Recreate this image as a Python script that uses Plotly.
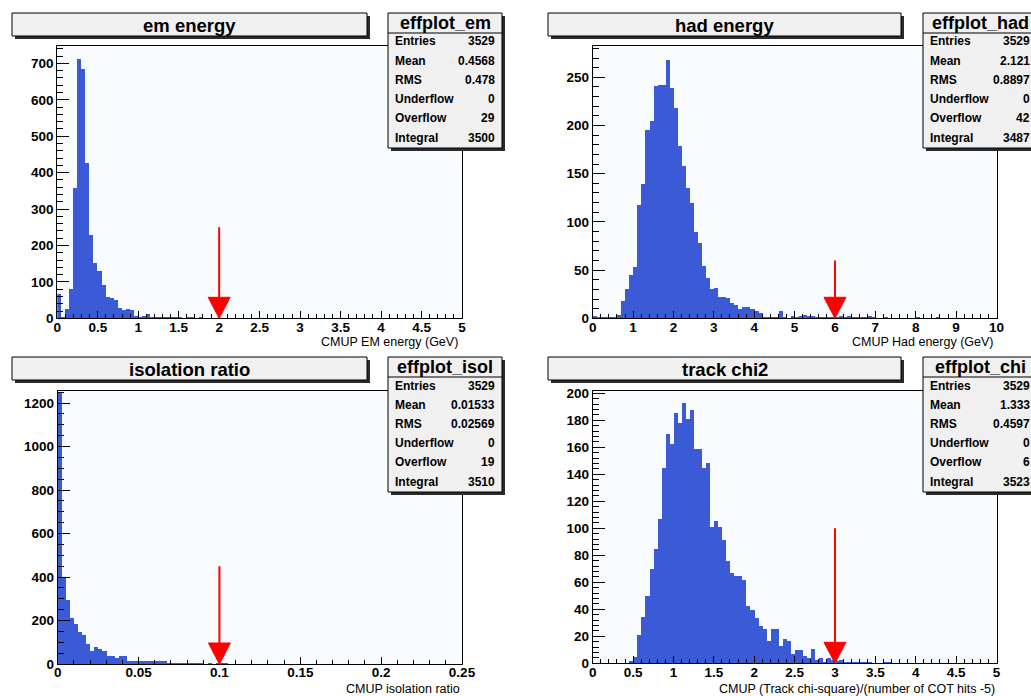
import numpy as np
import plotly.graph_objects as go

W, H = 1031, 696

# ---- histogram binning: (xmin, xmax, nbins) ----
em_binning = (0.0, 5.0, 100)
had_binning = (0.0, 10.0, 100)
isol_binning = (0.0, 0.25, 100)
chi_binning = (0.0, 5.0, 100)

# ---- bin contents ----
em_counts = [
    69, 5, 28, 82, 358, 714, 686, 428, 231, 152,
    130, 92, 61, 58, 53, 29, 23, 26, 23, 8,
    6, 9, 12, 6, 5, 6, 5, 3, 3, 5,
    4, 2, 3, 4, 2, 3, 1, 2, 2, 1,
    1, 2, 0, 1, 2, 0, 2, 1, 1, 0,
    2, 1, 0, 1, 2, 1, 0, 1, 0, 1,
    0, 1, 0, 0, 1, 0, 1, 0, 0, 0,
    1, 0, 0, 0, 1, 0, 0, 1, 0, 0,
    0, 0, 0, 0, 0, 0, 0, 0, 0, 0,
    0, 0, 0, 0, 0, 0, 0, 0, 0, 0,
]

had_counts = [
    3, 1, 1, 2, 2, 2, 4, 18, 31, 45,
    54, 118, 140, 196, 205, 242, 243, 243, 269, 239,
    219, 179, 158, 136, 120, 90, 79, 55, 42, 31,
    32, 23, 23, 22, 16, 14, 10, 12, 12, 10,
    8, 6, 2, 2, 2, 2, 8, 2, 0, 3,
    1, 3, 4, 3, 3, 1, 2, 1, 1, 2,
    2, 3, 1, 3, 2, 1, 2, 2, 3, 1,
    0, 0, 1, 0, 0, 0, 0, 0, 0, 0,
    1, 0, 0, 0, 0, 1, 0, 0, 0, 0,
    0, 0, 0, 0, 0, 0, 0, 0, 0, 0,
]

isol_counts = [
    1250, 401, 298, 216, 187, 151, 136, 96, 61, 80,
    70, 60, 41, 37, 31, 41, 37, 18, 18, 18,
    14, 18, 18, 14, 14, 14, 14, 9, 9, 9,
    6, 6, 5, 6, 4, 3, 0, 5, 0, 4,
    4, 3, 0, 0, 0, 0, 0, 0, 0, 0,
    0, 0, 0, 0, 0, 0, 0, 0, 0, 0,
    0, 0, 0, 0, 0, 0, 0, 0, 0, 0,
    0, 0, 0, 0, 0, 0, 0, 0, 0, 0,
    0, 0, 0, 0, 0, 0, 0, 0, 0, 0,
    0, 0, 0, 0, 0, 0, 0, 0, 0, 0,
]

chi_counts = [
    0, 0, 0, 0, 0, 0, 0, 0, 0, 2,
    5, 21, 35, 50, 70, 85, 107, 145, 170, 163,
    186, 178, 193, 181, 188, 159, 159, 145, 149, 101,
    106, 101, 92, 76, 67, 65, 65, 62, 43, 40,
    34, 28, 26, 17, 26, 26, 13, 18, 17, 7,
    10, 10, 6, 4, 11, 3, 4, 1, 4, 3,
    2, 3, 1, 1, 1, 1, 1, 1, 1, 0,
    0, 0, 1, 1, 0, 0, 0, 0, 0, 0,
    0, 0, 0, 0, 0, 0, 0, 0, 0, 0,
    0, 0, 0, 0, 0, 0, 0, 0, 0, 0,
]

# ---- texts ----
titles = ["em energy", "had energy", "isolation ratio", "track chi2"]
x_titles = [
    "CMUP EM energy (GeV)",
    "CMUP Had energy (GeV)",
    "CMUP isolation ratio",
    "CMUP (Track chi-square)/(number of COT hits -5)",
]
stat_names = ["effplot_em", "effplot_had", "effplot_isol", "effplot_chi"]
stat_labels = ["Entries", "Mean", "RMS", "Underflow", "Overflow", "Integral"]
stat_values = [
    ["3529", "0.4568", "0.478", "0", "29", "3500"],
    ["3529", "2.121", "0.8897", "0", "42", "3487"],
    ["3529", "0.01533", "0.02569", "0", "19", "3510"],
    ["3529", "1.333", "0.4597", "0", "6", "3523"],
]

# ---- cut positions and arrow tops ----
cut_values = [2.0, 6.0, 0.1, 3.0]
arrow_tops = [250, 60, 450, 100]

# ---- axis settings ----
y_max = [749, 283, 1258, 202]
x_major = [0.5, 1.0, 0.05, 0.5]
x_minor = [0.1, 0.2, 0.01, 0.1]
y_major = [100, 50, 200, 20]
y_minor = [20, 10, 50, 4]

binnings = [em_binning, had_binning, isol_binning, chi_binning]
counts = [em_counts, had_counts, isol_counts, chi_counts]

BAR_COLOR = "#3a5ad6"
FONT = "Liberation Sans"

# pixel frames of the four pads: (left, right, top, bottom)
frames = [
    (57.3, 462.0, 45.5, 318.3),
    (592.7, 996.5, 45.5, 318.3),
    (57.7, 462.0, 390.5, 664.0),
    (592.7, 996.5, 390.5, 663.3),
]
# title boxes (left, right, top, bottom)
title_boxes = [
    (12, 367, 13, 36),
    (548, 901, 13, 36),
    (12, 367, 357, 380),
    (548, 901, 357, 380),
]
# stats boxes (left, right, top, bottom)
stat_boxes = [
    (388, 502, 13, 148),
    (923, 1037, 13, 148),
    (388, 502, 357, 492),
    (923, 1037, 357, 492),
]
x_title_pos = [(460, 342), (996, 342), (462, 688.5), (997, 688.5)]


def px(x):
    return x / W


def py(y):
    return 1 - y / H


fig = go.Figure()
shapes = []
annotations = []
layout_axes = {}

for i in range(4):
    n = "" if i == 0 else str(i + 1)
    xmin, xmax, nb = binnings[i]
    edges = np.linspace(xmin, xmax, nb + 1)
    centers = 0.5 * (edges[:-1] + edges[1:])
    width = edges[1] - edges[0]

    fig.add_trace(go.Bar(
        x=centers, y=counts[i], width=width,
        marker=dict(color=BAR_COLOR, line=dict(width=0)),
        xaxis="x" + n, yaxis="y" + n, showlegend=False,
        hoverinfo="x+y",
    ))

    l, r, t, b = frames[i]
    tickfont = dict(family=FONT, size=13.5, color="black", weight="bold")
    layout_axes["xaxis" + n] = dict(
        domain=[px(l), px(r)], anchor="y" + n, range=[xmin, xmax],
        automargin=False,
        showgrid=False, zeroline=False, showline=True, mirror=True,
        linecolor="black", linewidth=1,
        ticks="inside", ticklen=7, tickwidth=1, tickcolor="black",
        ticklabelstandoff=-4,
        dtick=x_major[i], tick0=0, tickfont=tickfont,
        minor=dict(dtick=x_minor[i], tick0=0, ticks="inside", ticklen=4,
                   tickcolor="black", showgrid=False),
    )
    layout_axes["yaxis" + n] = dict(
        domain=[py(b), py(t)], anchor="x" + n, range=[0, y_max[i]],
        automargin=False,
        showgrid=False, zeroline=False, showline=True, mirror=True,
        linecolor="black", linewidth=1,
        ticks="inside", ticklen=12, tickwidth=1, tickcolor="black",
        dtick=y_major[i], tick0=0, tickfont=tickfont,
        minor=dict(dtick=y_minor[i], tick0=0, ticks="inside", ticklen=6,
                   tickcolor="black", showgrid=False),
    )

    # cut arrow: red shaft and filled head
    xr, yr = "x" + n, "y" + n
    shapes.append(dict(type="line", xref=xr, yref=yr,
                       x0=cut_values[i], x1=cut_values[i], y0=0, y1=arrow_tops[i],
                       line=dict(color="#ff0000", width=2)))
    shapes.append(dict(type="path", xref=xr, yref=yr,
                       xsizemode="pixel", ysizemode="pixel",
                       xanchor=cut_values[i], yanchor=0,
                       path="M -11 21 L 11 21 L 0 0 Z",
                       fillcolor="#ff0000", line=dict(color="#ff0000", width=1)))

    # title box with shadow
    tl, tr, tt, tb = title_boxes[i]
    shapes.append(dict(type="rect", xref="paper", yref="paper",
                       x0=px(tl + 3), x1=px(tr + 3), y0=py(tb + 3), y1=py(tt + 3),
                       fillcolor="#2a2a2a", line=dict(width=0)))
    shapes.append(dict(type="rect", xref="paper", yref="paper",
                       x0=px(tl), x1=px(tr), y0=py(tb), y1=py(tt),
                       fillcolor="#f0f0f0", line=dict(color="black", width=1)))
    annotations.append(dict(xref="paper", yref="paper",
                            x=px((tl + tr) / 2), y=py((tt + tb) / 2 + 0.5),
                            text=titles[i], showarrow=False,
                            xanchor="center", yanchor="middle",
                            font=dict(family=FONT, size=18.5, color="black",
                                      weight="bold")))

    # statistics box with shadow
    sl, sr, st, sb = stat_boxes[i]
    shapes.append(dict(type="rect", xref="paper", yref="paper",
                       x0=px(sl + 3), x1=px(sr + 3), y0=py(sb + 3), y1=py(st + 3),
                       fillcolor="#2a2a2a", line=dict(width=0)))
    shapes.append(dict(type="rect", xref="paper", yref="paper",
                       x0=px(sl), x1=px(sr), y0=py(sb), y1=py(st),
                       fillcolor="#f0f0f0", line=dict(color="black", width=1)))
    shapes.append(dict(type="line", xref="paper", yref="paper",
                       x0=px(sl), x1=px(sr), y0=py(st + 20), y1=py(st + 20),
                       line=dict(color="black", width=1)))
    annotations.append(dict(xref="paper", yref="paper",
                            x=px((sl + sr) / 2), y=py(st + 10),
                            text=stat_names[i], showarrow=False,
                            xanchor="center", yanchor="middle",
                            font=dict(family=FONT, size=18, color="black",
                                      weight="bold")))
    for k, (lab, val) in enumerate(zip(stat_labels, stat_values[i])):
        yrow = st + 28.5 + 19.2 * k
        annotations.append(dict(xref="paper", yref="paper",
                                x=px(sl + 5), y=py(yrow), text=lab,
                                showarrow=False, xanchor="left", yanchor="middle",
                                font=dict(family=FONT, size=12, color="black",
                                          weight="bold")))
        annotations.append(dict(xref="paper", yref="paper",
                                x=px(sr - 5), y=py(yrow), text=val,
                                showarrow=False, xanchor="right", yanchor="middle",
                                font=dict(family=FONT, size=12, color="black",
                                          weight="bold")))

    # x-axis title, right aligned at the end of the axis
    ax_x, ax_y = x_title_pos[i]
    annotations.append(dict(xref="paper", yref="paper",
                            x=px(ax_x), y=py(ax_y), text=x_titles[i],
                            showarrow=False, xanchor="right", yanchor="middle",
                            font=dict(family=FONT, size=12.5, color="black")))

fig.update_layout(
    width=W, height=H,
    autosize=False,
    margin=dict(l=0, r=0, t=0, b=0, autoexpand=False),
    paper_bgcolor="white",
    plot_bgcolor="#f8fcfe",
    bargap=0, barmode="overlay",
    shapes=shapes, annotations=annotations,
    showlegend=False,
    **layout_axes,
)

fig.write_html("out.html", config={"responsive": False})
